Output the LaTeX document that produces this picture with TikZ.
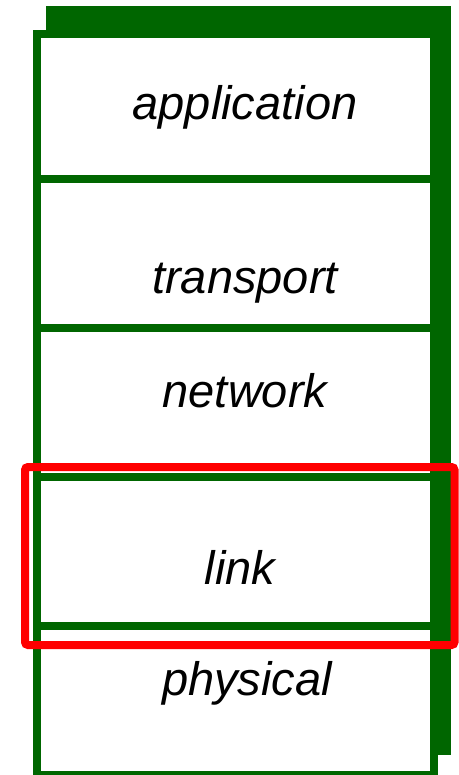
\documentclass[tikz,border=0pt]{standalone}
\usepackage{fontspec}
\setmainfont{Liberation Sans}
\definecolor{lg}{HTML}{006600}
\begin{document}
\begin{tikzpicture}[x=1pt,y=-1pt,
  layer/.style={font=\fontsize{47}{50}\selectfont\itshape, anchor=base, inner sep=0pt},
  divider/.style={draw=lg, line width=8pt}]
\useasboundingbox (0,0) rectangle (458,775);
\fill[lg] (46,6) rectangle (451,755);
\draw[lg, fill=white, line width=8pt] (37,34) rectangle (434,775);
\coordinate (l1) at (37,179); \coordinate (r1) at (434,179);
\coordinate (l2) at (37,327.5); \coordinate (r2) at (434,327.5);
\coordinate (l3) at (37,477); \coordinate (r3) at (434,477);
\coordinate (l4) at (37,626); \coordinate (r4) at (434,626);
\draw[divider] (l1) -- (r1);
\draw[divider] (l2) -- (r2);
\draw[divider] (l3) -- (r3);
\draw[divider] (l4) -- (r4);
\node[layer] (app) at (245,120) {application};
\node[layer] (tra) at (245,293) {transport};
\node[layer] (net) at (245,407) {network};
\node[layer] (lnk) at (240,584) {link};
\node[layer] (phy) at (247,695) {physical};
\draw[red, line width=8pt, rounded corners=3pt] (25,467) rectangle (454.5,645);
\end{tikzpicture}
\end{document}
